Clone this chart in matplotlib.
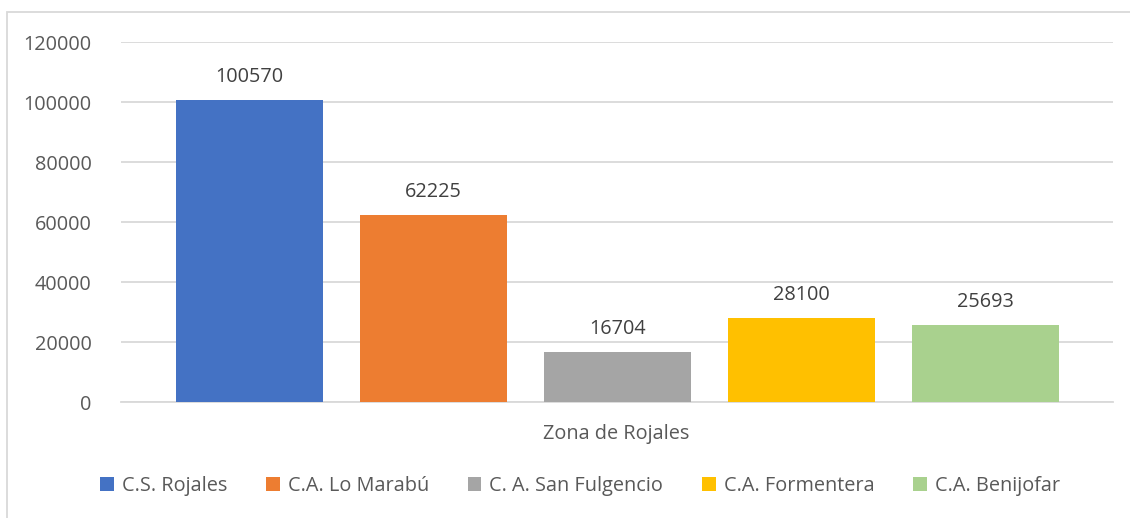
import matplotlib
matplotlib.use('Agg')
import matplotlib.pyplot as plt
from matplotlib.patches import Rectangle, Patch

# data
category = 'Zona de Rojales'
series = ['C.S. Rojales', 'C.A. Lo Marabú', 'C. A. San Fulgencio', 'C.A. Formentera', 'C.A. Benijofar']
values = [100570, 62225, 16704, 28100, 25693]
colors = ['#4472C4', '#ED7D31', '#A5A5A5', '#FFC000', '#A9D18E']
yticks = [0, 20000, 40000, 60000, 80000, 100000, 120000]

text_col = '#595959'
grid_col = '#D9D9D9'
fs = 14.3
plt.rcParams['font.family'] = ['Open Sans', 'DejaVu Sans']

fig = plt.figure(figsize=(11.3, 5.18), dpi=100)
# chart border (Excel style), right/bottom sides fall outside the picture
fig.patches.append(Rectangle((7 / 1130, -0.05), 1.2, 1 - 12 / 518 + 0.05,
                             transform=fig.transFigure, fill=False,
                             edgecolor=grid_col, linewidth=1.3))

ax = fig.add_axes([121 / 1130, 1 - 402 / 518, 992 / 1130, 360 / 518])

x = list(range(len(values)))
bars = ax.bar(x, values, width=0.799, color=colors, zorder=3)
for xi, v in zip(x, values):
    ax.text(xi, v + 4300, str(v), ha='center', va='bottom', fontsize=fs, color='#404040')

ax.set_xlim(-0.698, 4.693)
ax.set_ylim(0, 120000)
ax.set_yticks(yticks)
ax.set_yticklabels([str(t) for t in yticks], fontsize=fs, color=text_col)
ax.tick_params(axis='y', length=0, pad=21)
ax.set_xticks([])
ax.grid(axis='y', color=grid_col, linewidth=1.3, zorder=0)
for s in ['top', 'right', 'left']:
    ax.spines[s].set_visible(False)
ax.spines['bottom'].set_color(grid_col)
ax.spines['bottom'].set_linewidth(1.3)

fig.text(616 / 1130, 1 - 434 / 518, category, ha='center', va='center',
         fontsize=fs, color=text_col)

handles = [Patch(facecolor=c, edgecolor='none') for c in colors]
fig.legend(handles, series, loc='center', bbox_to_anchor=(580 / 1130, 1 - 486 / 518),
           ncol=5, frameon=False, fontsize=fs, labelcolor=text_col,
           handlelength=0.7, handleheight=0.7, handletextpad=0.4, columnspacing=1.95)

plt.savefig('out.png', dpi=100)
